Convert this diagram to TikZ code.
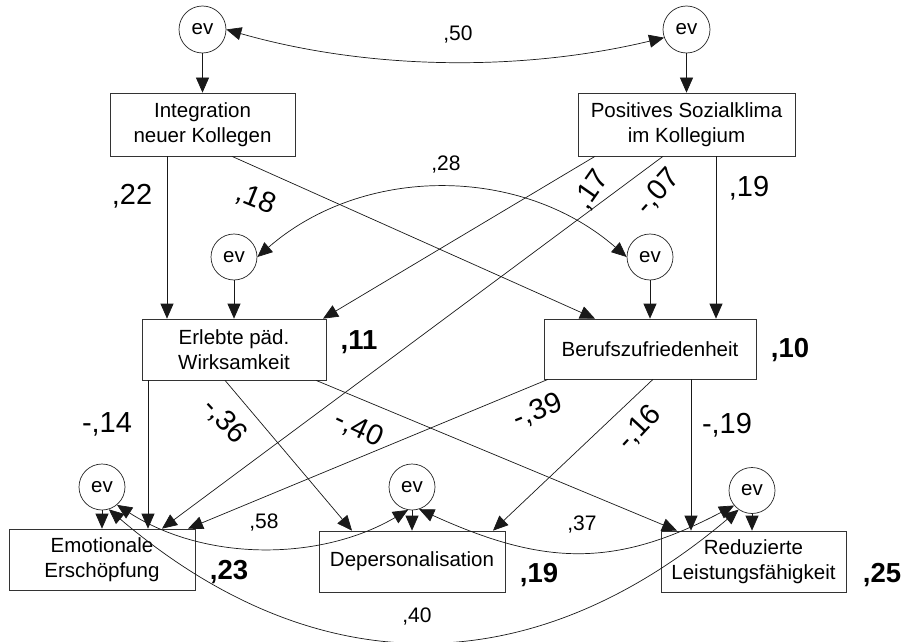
\documentclass[tikz,border=0pt]{standalone}
\usepackage{fontspec}
\setmainfont{Liberation Sans}
\usetikzlibrary{arrows.meta}
\begin{document}
\begin{tikzpicture}[x=1pt,y=-1pt,
  box/.style={draw=black!80, line width=0.7pt, inner sep=0pt, align=center,
    font=\fontsize{20.5}{25.4}\selectfont},
  evn/.style={circle, draw=black!85, line width=0.7pt, minimum size=47pt, inner sep=0pt,
    font=\fontsize{20.5}{24}\selectfont},
  pth/.style={draw=black!90, line width=0.7pt, -{Triangle[length=15pt,width=13pt]}},
  cov/.style={draw=black!90, line width=0.7pt, {Triangle[length=15pt,width=13pt]}-{Triangle[length=15pt,width=13pt]}},
  coef/.style={font=\fontsize{29}{31}\selectfont, inner sep=0pt},
  rsq/.style={font=\fontsize{27.5}{30}\selectfont\bfseries, inner sep=0pt},
  covl/.style={font=\fontsize{21}{24}\selectfont, inner sep=0pt}]
\useasboundingbox (0,0) rectangle (903,642);
\fill[white] (0,0) rectangle (903,642);

% nodes
\node[evn] (evA) at (202.5,29.5) {ev};
\node[evn] (evB) at (686.5,29.5) {ev};
\node[box, minimum width=185pt, minimum height=63pt] (Int) at (202.5,124.5) {Integration\\neuer Kollegen};
\node[box, minimum width=217pt, minimum height=63pt] (Pos) at (686.5,124.5) {Positives Sozialklima\\im Kollegium};
\node[evn, minimum size=46pt] (evC) at (234,257) {ev};
\node[evn, minimum size=46pt] (evD) at (650,257) {ev};
\node[box, minimum width=184pt, minimum height=61pt] (Erl) at (234,349.5) {Erlebte päd.\\Wirksamkeit};
\node[box, minimum width=212pt, minimum height=60pt] (Ber) at (650,349) {Berufszufriedenheit};
\node[evn, minimum size=46pt] (evE) at (102,487) {ev};
\node[evn, minimum size=46pt] (evF) at (412,487) {ev};
\node[evn, minimum size=46pt] (evG) at (752,490.5) {ev};
\node[box, minimum width=186pt, minimum height=61pt] (Emo) at (102,559.5) {Emotionale\\Erschöpfung};
\node[box, minimum width=186pt, minimum height=61pt] (Dep) at (412,561.5) {Depersonalisation};
\node[box, minimum width=185pt, minimum height=61pt] (Red) at (753.5,561.5) {Reduzierte\\Leistungsfähigkeit};

% error arrows
\draw[pth] (evA) -- (Int);
\draw[pth] (evB) -- (Pos);
\draw[pth] (evC) -- (Erl);
\draw[pth] (evD) -- (Ber);
\draw[pth] (evE) -- (Emo);
\draw[pth] (evF) -- (Dep);
\draw[pth] (evG.south) -- (evG.south |- Red.north);

% paths
\draw[pth] ([xshift=-35.5pt]Int.south) -- ([xshift=-67pt]Erl.north);
\draw[pth] ([xshift=29.5pt]Int.south) -- ([xshift=-55pt]Ber.north);
\draw[pth] ([xshift=-91.5pt]Pos.south) -- ([xshift=89pt]Erl.north);
\draw[pth] ([xshift=-23.5pt]Pos.south) -- ([xshift=60pt]Emo.north);
\draw[pth] ([xshift=29.5pt]Pos.south) -- ([xshift=66pt]Ber.north);
\draw[pth] ([xshift=-86pt]Erl.south) -- ([xshift=46pt]Emo.north);
\draw[pth] ([xshift=-9pt]Erl.south) -- ([xshift=-60pt]Dep.north);
\draw[pth] ([xshift=82pt]Erl.south) -- ([xshift=-76.5pt]Red.north);
\draw[pth] ([xshift=-102pt]Ber.south) -- ([xshift=86pt]Emo.north);
\draw[pth] ([xshift=3pt]Ber.south) -- ([xshift=81pt]Dep.north);
\draw[pth] ([xshift=41pt]Ber.south) -- ([xshift=-62.5pt]Red.north);

% covariances
\draw[cov] (evA.east) .. controls (368,70) and (521,72) .. (evB.200);
\draw[cov] (evC.east) .. controls (363,165) and (521,165) .. (evD.west);
\draw[cov] (evE.-50) .. controls (206,562) and (321,561) .. (evF.-100);
\draw[cov] (evF.-72) .. controls (544,566) and (615,568) .. (evG.-140);
\draw[cov] (evE.-73) .. controls (314,684) and (530,686) .. (evG.-125);

% labels
\node[covl] (l50) at (458,35) {,50};
\node[covl] (l28) at (446,165) {,28};
\node[covl] (l58) at (264,523) {,58};
\node[covl] (l37) at (582,525) {,37};
\node[covl] (l40) at (417,617) {,40};

\node[coef] (c22) at (132,196) {,22};
\node[coef, rotate=-22] (c18) at (256,199) {,18};
\node[coef, rotate=55] (c17) at (592,190) {,17};
\node[coef, rotate=48] (c07) at (658,192) {-,07};
\node[coef] (c19a) at (749,188) {,19};
\node[coef] (c14) at (107,424) {-,14};
\node[coef, rotate=-47] (c36) at (225,421) {-,36};
\node[coef, rotate=-25] (c40) at (359,429) {-,40};
\node[coef, rotate=22] (c39) at (538,411) {-,39};
\node[coef, rotate=47] (c16) at (639,428) {-,16};
\node[coef] (c19b) at (727,425) {-,19};

\node[rsq] (r11) at (359,342) {,11};
\node[rsq] (r10) at (790,350) {,10};
\node[rsq] (r23) at (229,572) {,23};
\node[rsq] (r19) at (539,575) {,19};
\node[rsq] (r25) at (882,575) {,25};
\end{tikzpicture}
\end{document}
